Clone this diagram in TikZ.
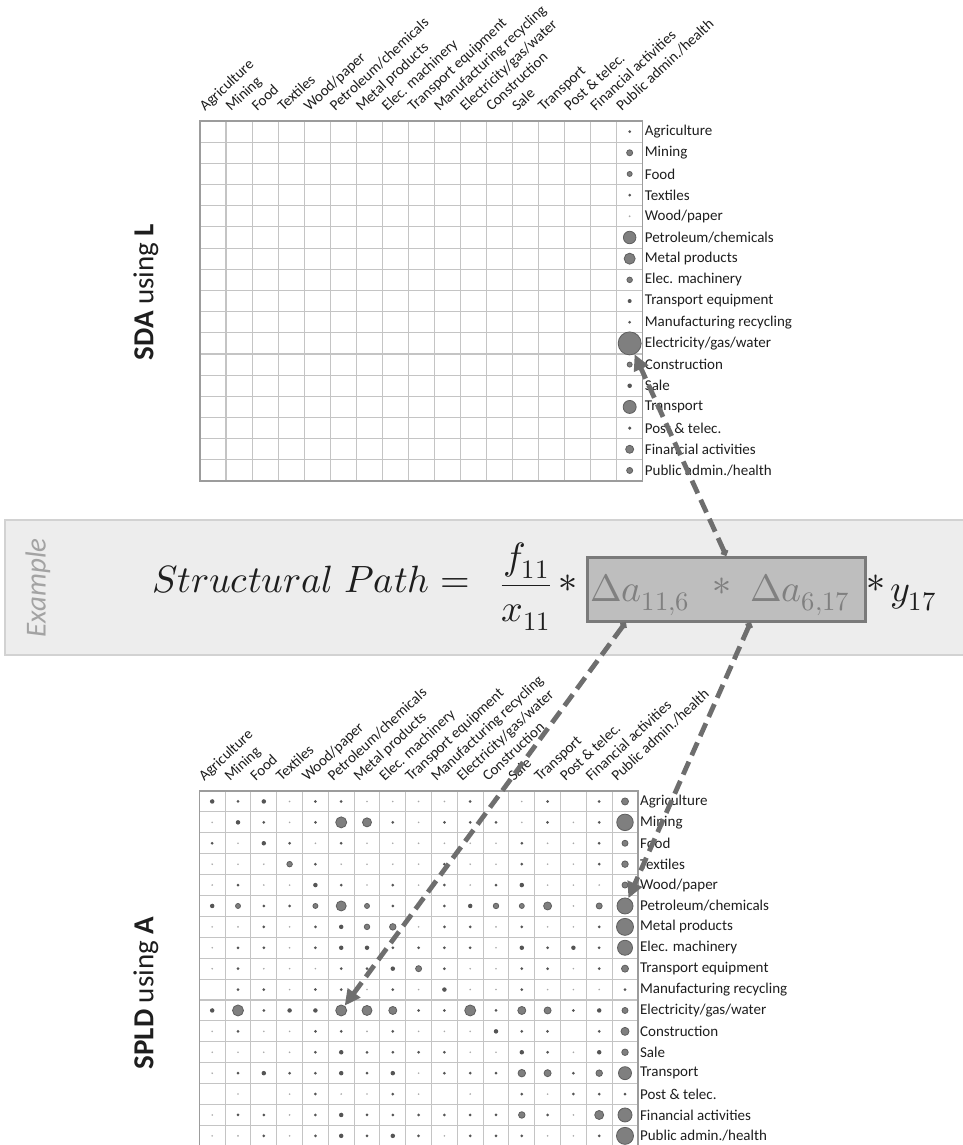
\documentclass[tikz,border=0pt]{standalone}
\usepackage{fontspec}
\usepackage{unicode-math}
\newfontfamily\calfont{Carlito}
\usetikzlibrary{arrows.meta}
\definecolor{gridc}{HTML}{C4C4C4}
\definecolor{borderc}{HTML}{9C9C9C}
\definecolor{dotfill}{HTML}{7F7F7F}
\definecolor{dotdraw}{HTML}{5E5E5E}
\definecolor{darkdot}{HTML}{555555}
\definecolor{tinydot}{HTML}{A8A8A8}
\definecolor{bandfill}{HTML}{EDEDED}
\definecolor{banddraw}{HTML}{D2D2D2}
\definecolor{boxfill}{HTML}{BEBEBE}
\definecolor{boxdraw}{HTML}{7A7A7A}
\definecolor{boxtext}{HTML}{808080}
\definecolor{arrowc}{HTML}{6E6E6E}
\definecolor{labc}{HTML}{1E1E1E}
\definecolor{exc}{HTML}{A3A3A3}
\tikzset{
  gridline/.style={draw=gridc, line width=1.1pt},
  gridborder/.style={draw=borderc, line width=1.6pt},
  rowlab/.style={anchor=west, inner sep=0pt, xshift=2pt, text=labc, font=\calfont\fontsize{15}{17}\selectfont},
  collab/.style={anchor=base west, inner sep=0pt, rotate=43, text=labc, font=\calfont\fontsize{15}{17}\selectfont},
  tdot/.style={circle, inner sep=0pt, fill=tinydot},
  sdot/.style={circle, inner sep=0pt, fill=darkdot},
  bdot/.style={circle, inner sep=0pt, fill=dotfill, draw=dotdraw, line width=0.8pt},
  sidelab/.style={rotate=90, inner sep=0pt, text=labc, font=\calfont\fontsize{29}{32}\selectfont},
  mathtxt/.style={inner sep=0pt, text=labc, font=\fontsize{38}{42}\selectfont},
  boxtxt/.style={inner sep=0pt, text=boxtext, font=\fontsize{38}{42}\selectfont},
  conn/.style={draw=arrowc, line width=4.8pt, dash pattern=on 14pt off 7pt,
    {Circle[length=7pt,width=7pt]}-{Triangle[length=16pt,width=15pt]}}
}
\newcommand{\dotpick}[1]{%
  \ifdim #1pt<2.5pt \def\dstyle{tdot}\else
  \ifdim #1pt<5pt \def\dstyle{sdot}\else \def\dstyle{bdot}\fi\fi}
\begin{document}
\begin{tikzpicture}[x=1pt, y=-1pt]
\useasboundingbox (0,0) rectangle (963,1145);
\fill[white] (0,0) rectangle (963,1145);

% ===== top grid (SDA using L) =====
\def\tx{200}\def\ty{121}\def\tw{26.04}\def\th{21.18}
\foreach \i in {1,...,16}
  \draw[gridline] ({\tx+\i*\tw},\ty) -- ({\tx+\i*\tw},{\ty+17*\th});
\foreach \i in {1,...,16}
  \draw[gridline] (\tx,{\ty+\i*\th}) -- ({\tx+17*\tw},{\ty+\i*\th});
\draw[gridborder] (\tx,\ty) rectangle ({\tx+17*\tw},{\ty+17*\th});
\foreach \lab [count=\c] in {Agriculture,Mining,Food,Textiles,Wood/paper,Petroleum/chemicals,Metal products,Elec. machinery,Transport equipment,Manufacturing recycling,Electricity/gas/water,Construction,Sale,Transport,Post \& telec.,Financial activities,Public admin./health}
  \node[collab] (tc-\c) at ({\tx+(\c-0.5)*\tw-8},{\ty-9}) {\lab};
\foreach \lab [count=\r] in {Agriculture,Mining,Food,Textiles,Wood/paper,Petroleum/chemicals,Metal products,Elec. machinery,Transport equipment,Manufacturing recycling,Electricity/gas/water,Construction,Sale,Transport,Post \& telec.,Financial activities,Public admin./health}
  \node[rowlab] (tr-\r) at ({\tx+17*\tw},{\ty+(\r-0.5)*\th}) {\lab};
\foreach \d [count=\r] in {3,6,5,3,2,12.5,11,5.5,4,3,23,5,4.5,13,3.5,8,6} {
  \dotpick{\d}
  \node[\dstyle, minimum size=\d pt] (t-\r) at ({\tx+16.5*\tw},{\ty+(\r-0.5)*\th}) {};
}
\node[sidelab] (sda) at (146,292) {\textbf{SDA} using \textbf{L}};

% ===== bottom grid (SPLD using A) =====
\def\bx{199.3}\def\by{791}\def\bw{25.8}\def\bh{20.9}
\foreach \i in {1,...,16}
  \draw[gridline] ({\bx+\i*\bw},\by) -- ({\bx+\i*\bw},{\by+17*\bh});
\foreach \i in {1,...,16}
  \draw[gridline] (\bx,{\by+\i*\bh}) -- ({\bx+17*\bw},{\by+\i*\bh});
\draw[gridborder] (\bx,\by) rectangle ({\bx+17*\bw},{\by+17*\bh});
\foreach \lab [count=\c] in {Agriculture,Mining,Food,Textiles,Wood/paper,Petroleum/chemicals,Metal products,Elec. machinery,Transport equipment,Manufacturing recycling,Electricity/gas/water,Construction,Sale,Transport,Post \& telec.,Financial activities,Public admin./health}
  \node[collab] (bc-\c) at ({\bx+(\c-0.5)*\bw-8},{\by-9}) {\lab};
\foreach \lab [count=\r] in {Agriculture,Mining,Food,Textiles,Wood/paper,Petroleum/chemicals,Metal products,Elec. machinery,Transport equipment,Manufacturing recycling,Electricity/gas/water,Construction,Sale,Transport,Post \& telec.,Financial activities,Public admin./health}
  \node[rowlab] (br-\r) at ({\bx+17*\bw},{\by+(\r-0.5)*\bh}) {\lab};
\foreach \rowvals [count=\r] in {
 {4.5,3,4.5,1.8,3,3,1.8,1.8,1.8,1.8,3,0,1.8,3,0,3,7},
 {1.8,4.5,3,1.8,3,11,9,3,1.8,3,3,3,1.8,3,1.8,3,16.5},
 {3,1.8,4.5,3,1.8,3,1.8,1.8,1.8,1.8,1.8,1.8,3,1.8,1.8,3,6},
 {1.8,1.8,1.8,5.5,3,1.8,1.8,1.8,1.8,3,1.8,1.8,3,1.8,1.8,3,6.5},
 {1.8,3,1.8,1.8,4.5,3,1.8,3,1.8,3,1.8,3,4.5,1.8,1.8,1.8,6},
 {4.5,5,3,3,5,10,5,3,1.8,3,4.5,5.5,5,8,1.8,6,16},
 {1.8,1.8,3,1.8,3,4.5,5.5,6.5,1.8,3,3,1.8,3,1.8,1.8,3,17},
 {1.8,3,3,1.8,3,4.5,4.5,3,3,3,3,1.8,4.5,3,4.5,3,15},
 {1.8,3,1.8,1.8,1.8,3,3,4.5,6,3,1.8,1.8,3,3,1.8,3,7},
 {0,3,3,1.8,3,3,1.8,3,1.8,4.5,1.8,1.8,3,1.8,1.8,1.8,3},
 {4.5,11,3,4.5,4.5,11,10,8,3,3,11,3,8,7,3,4.5,6},
 {1.8,3,1.8,1.8,3,3,1.8,3,1.8,1.8,1.8,4.5,3,3,0,3,8},
 {1.8,1.8,1.8,1.8,3,4.5,3,3,3,3,1.8,1.8,4.5,3,1.8,4.5,6.5},
 {1.8,3,4.5,3,3,4.5,3,4.5,1.8,3,3,3,7.5,7,3,6.5,13},
 {0,1.8,0,1.8,3,1.8,1.8,3,1.8,0,1.8,0,3,1.8,3,3,3},
 {1.8,3,3,1.8,3,4.5,3,3,3,3,3,3,6.5,3,1.8,9,14},
 {1.8,1.8,3,1.8,3,4.5,3,4.5,3,1.8,3,3,3,1.8,1.8,3,17}} {
  \foreach \d [count=\c] in \rowvals {
    \ifdim \d pt>0pt
      \dotpick{\d}
      \node[\dstyle, minimum size=\d pt] (b-\r-\c) at ({\bx+(\c-0.5)*\bw},{\by+(\r-0.5)*\bh}) {};
    \fi
  }
}
\node[sidelab] (spld) at (146,993) {\textbf{SPLD} using \textbf{A}};

% ===== example band =====
\draw[fill=bandfill, draw=banddraw, line width=2.5pt] (5,520) rectangle (975,655);
\node[rotate=90, inner sep=0pt, text=exc, font=\calfont\itshape\fontsize{29}{32}\selectfont] (ex) at (38,588) {Example};
\node[mathtxt, anchor=base west] (sp) at (152,592) {$Structural\ Path =$};
\node[mathtxt, anchor=base] (frac) at (526,595) {$\dfrac{f_{11}}{x_{11}}$};
\node[mathtxt] (ast1) at (568,584) {$*$};
\node[draw=boxdraw, fill=boxfill, line width=3pt, minimum width=278pt, minimum height=64pt, inner sep=0pt] (box) at (726,589) {};
\node[boxtxt, anchor=base west] (d1) at (590,601) {$\Delta a_{11,6}$};
\node[boxtxt] (ast2) at (722,587) {$*$};
\node[boxtxt, anchor=base west] (d2) at (750,601) {$\Delta a_{6,17}$};
\node[mathtxt] (ast3) at (876,584) {$*$};
\node[mathtxt, anchor=base west] (y17) at (890,601) {$y_{17}$};

% ===== connectors =====
\coordinate (s2) at ([xshift=40pt]box.south west);
\coordinate (s3) at ([xshift=165pt]box.south west);
\draw[conn] (box.north) -- (t-11);
\draw[conn] (s2) -- (b-11-6);
\draw[conn] (s3) -- (b-6-17);
\end{tikzpicture}
\end{document}
